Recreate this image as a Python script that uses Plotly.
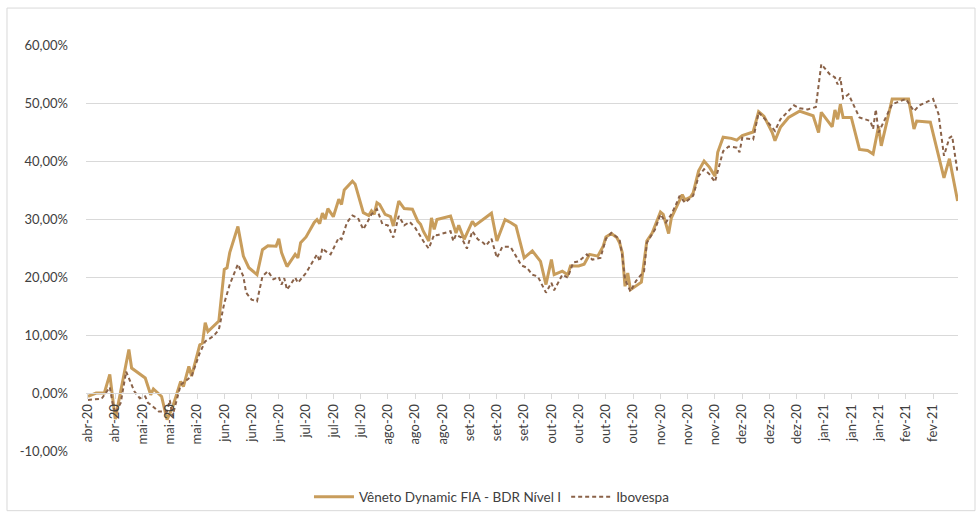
import plotly.graph_objects as go

fund_name = "Vêneto Dynamic FIA - BDR Nível I"
ibov_name = "Ibovespa"

fund_dates = [
    "2020-04-14", "2020-04-17", "2020-04-20", "2020-04-22", "2020-04-24", "2020-04-29", "2020-04-30",
    "2020-05-04", "2020-05-05", "2020-05-07", "2020-05-08", "2020-05-11", "2020-05-13", "2020-05-15",
    "2020-05-18", "2020-05-19", "2020-05-21", "2020-05-22", "2020-05-25", "2020-05-26", "2020-05-27",
    "2020-05-28", "2020-06-01", "2020-06-03", "2020-06-04", "2020-06-05", "2020-06-08", "2020-06-10",
    "2020-06-12", "2020-06-15", "2020-06-17", "2020-06-19", "2020-06-22", "2020-06-23", "2020-06-24",
    "2020-06-25", "2020-06-26", "2020-06-29", "2020-06-30", "2020-07-01", "2020-07-03", "2020-07-06",
    "2020-07-07", "2020-07-08", "2020-07-09", "2020-07-10", "2020-07-11", "2020-07-13", "2020-07-15",
    "2020-07-16", "2020-07-17", "2020-07-20", "2020-07-21", "2020-07-24", "2020-07-26", "2020-07-27",
    "2020-07-28", "2020-07-29", "2020-07-30", "2020-08-01", "2020-08-03", "2020-08-04", "2020-08-06",
    "2020-08-08", "2020-08-11", "2020-08-13", "2020-08-14", "2020-08-15", "2020-08-17", "2020-08-18",
    "2020-08-19", "2020-08-20", "2020-08-23", "2020-08-25", "2020-08-27", "2020-08-28", "2020-08-30",
    "2020-09-02", "2020-09-03", "2020-09-09", "2020-09-11", "2020-09-14", "2020-09-16", "2020-09-18",
    "2020-09-21", "2020-09-24", "2020-09-27", "2020-09-29", "2020-10-01", "2020-10-02", "2020-10-05",
    "2020-10-07", "2020-10-08", "2020-10-11", "2020-10-13", "2020-10-15", "2020-10-18", "2020-10-20",
    "2020-10-21", "2020-10-23", "2020-10-25", "2020-10-26", "2020-10-27", "2020-10-28", "2020-10-29",
    "2020-10-30", "2020-11-03", "2020-11-05", "2020-11-07", "2020-11-10", "2020-11-11", "2020-11-13",
    "2020-11-14", "2020-11-17", "2020-11-18", "2020-11-19", "2020-11-21", "2020-11-22", "2020-11-24",
    "2020-11-26", "2020-11-28", "2020-11-30", "2020-12-01", "2020-12-03", "2020-12-06", "2020-12-08",
    "2020-12-10", "2020-12-14", "2020-12-16", "2020-12-18", "2020-12-21", "2020-12-22", "2020-12-24",
    "2020-12-27", "2020-12-31", "2021-01-05", "2021-01-07", "2021-01-08", "2021-01-12", "2021-01-13",
    "2021-01-14", "2021-01-15", "2021-01-16", "2021-01-19", "2021-01-22", "2021-01-25", "2021-01-27",
    "2021-01-29", "2021-01-30", "2021-02-03", "2021-02-09", "2021-02-11", "2021-02-12", "2021-02-17",
    "2021-02-22", "2021-02-24", "2021-02-27",
]
fund_values = [
    -0.6, 0.0, 0.0, 3.2, -4.5, 7.5, 4.3,
    2.9, 2.6, -0.3, 0.7, -0.6, -4.6, -2.5,
    2.0, 1.1, 4.6, 2.9, 8.3, 8.6, 12.1,
    10.6, 12.4, 21.3, 21.6, 24.2, 28.7, 23.6,
    21.6, 20.4, 24.7, 25.4, 25.3, 26.6, 24.2,
    23.0, 21.8, 23.9, 23.3, 25.9, 26.9, 29.4,
    29.9, 29.2, 31.0, 30.0, 31.8, 30.4, 33.4,
    32.5, 35.0, 36.5, 36.0, 31.1, 30.6, 31.4,
    30.8, 32.8, 32.5, 30.8, 30.4, 28.8, 33.1,
    31.8, 31.7, 29.6, 29.1, 27.9, 26.2, 30.2,
    28.2, 29.9, 30.2, 30.5, 27.6, 28.9, 26.5,
    29.6, 28.9, 31.0, 26.2, 29.9, 29.4, 28.8,
    23.3, 24.5, 22.7, 18.7, 23.0, 20.4, 21.0,
    20.4, 21.9, 21.9, 22.2, 23.9, 23.6, 25.3,
    26.9, 27.5, 26.8, 25.9, 24.2, 18.4, 20.7,
    17.8, 19.1, 26.2, 27.6, 31.2, 30.8, 27.5,
    30.2, 33.4, 34.2, 33.3, 33.8, 34.5, 38.3,
    40.0, 38.9, 37.4, 41.5, 44.1, 43.9, 43.6,
    44.4, 45.0, 48.5, 47.7, 44.9, 43.5, 45.8,
    47.5, 48.6, 47.8, 44.9, 48.4, 45.9, 48.8,
    47.2, 49.8, 47.5, 47.5, 42.0, 41.8, 41.2,
    46.0, 42.6, 50.7, 50.7, 45.5, 46.9, 46.7,
    37.1, 40.4, 33.1,
]

ibov_dates = [
    "2020-04-14", "2020-04-19", "2020-04-22", "2020-04-23", "2020-04-24", "2020-04-26", "2020-04-28",
    "2020-05-01", "2020-05-03", "2020-05-05", "2020-05-06", "2020-05-07", "2020-05-10", "2020-05-13",
    "2020-05-14", "2020-05-15", "2020-05-18", "2020-05-22", "2020-05-25", "2020-05-27", "2020-05-30",
    "2020-06-01", "2020-06-03", "2020-06-05", "2020-06-08", "2020-06-10", "2020-06-11", "2020-06-13",
    "2020-06-15", "2020-06-17", "2020-06-19", "2020-06-21", "2020-06-23", "2020-06-24", "2020-06-25",
    "2020-06-26", "2020-06-29", "2020-06-30", "2020-07-03", "2020-07-06", "2020-07-07", "2020-07-08",
    "2020-07-09", "2020-07-10", "2020-07-12", "2020-07-15", "2020-07-16", "2020-07-18", "2020-07-20",
    "2020-07-22", "2020-07-24", "2020-07-26", "2020-07-27", "2020-07-29", "2020-07-31", "2020-08-02",
    "2020-08-04", "2020-08-06", "2020-08-08", "2020-08-10", "2020-08-12", "2020-08-14", "2020-08-15",
    "2020-08-17", "2020-08-19", "2020-08-20", "2020-08-22", "2020-08-25", "2020-08-26", "2020-08-27",
    "2020-08-29", "2020-08-31", "2020-09-02", "2020-09-04", "2020-09-06", "2020-09-07", "2020-09-09",
    "2020-09-11", "2020-09-13", "2020-09-16", "2020-09-18", "2020-09-20", "2020-09-22", "2020-09-24",
    "2020-09-26", "2020-09-29", "2020-10-01", "2020-10-02", "2020-10-05", "2020-10-07", "2020-10-09",
    "2020-10-11", "2020-10-14", "2020-10-16", "2020-10-19", "2020-10-21", "2020-10-23", "2020-10-26",
    "2020-10-27", "2020-10-28", "2020-10-30", "2020-11-01", "2020-11-04", "2020-11-05", "2020-11-08",
    "2020-11-10", "2020-11-12", "2020-11-14", "2020-11-16", "2020-11-17", "2020-11-19", "2020-11-21",
    "2020-11-22", "2020-11-24", "2020-11-26", "2020-11-28", "2020-11-30", "2020-12-02", "2020-12-03",
    "2020-12-05", "2020-12-08", "2020-12-09", "2020-12-10", "2020-12-14", "2020-12-16", "2020-12-19",
    "2020-12-22", "2020-12-24", "2020-12-26", "2020-12-29", "2020-12-31", "2021-01-03", "2021-01-06",
    "2021-01-08", "2021-01-11", "2021-01-13", "2021-01-14", "2021-01-15", "2021-01-16", "2021-01-18",
    "2021-01-22", "2021-01-26", "2021-01-27", "2021-01-28", "2021-01-29", "2021-02-01", "2021-02-03",
    "2021-02-08", "2021-02-11", "2021-02-13", "2021-02-18", "2021-02-20", "2021-02-22", "2021-02-24",
    "2021-02-25", "2021-02-27",
]
ibov_values = [
    -1.2, -1.0, 1.0, -1.7, -3.5, -1.7, 3.7,
    0.3, -0.9, -0.6, -1.7, -2.0, -3.2, -3.2,
    -1.2, -4.0, 1.4, 2.9, 6.9, 8.9, 9.8,
    10.9, 15.5, 18.7, 22.2, 20.1, 17.3, 16.1,
    15.8, 20.1, 21.0, 19.6, 20.0, 18.7, 19.8,
    17.8, 19.9, 19.0, 20.7, 23.0, 23.9, 22.7,
    25.0, 24.5, 23.9, 26.8, 26.5, 29.4, 30.6,
    30.2, 28.2, 29.9, 30.8, 31.7, 29.1, 28.9,
    26.8, 30.5, 28.9, 29.5, 28.5, 27.0, 26.2,
    24.9, 27.3, 27.2, 27.5, 27.9, 26.2, 27.3,
    26.8, 24.9, 27.9, 26.5, 25.9, 25.4, 26.6,
    23.3, 25.2, 25.2, 23.6, 22.0, 21.6, 20.4,
    20.1, 17.3, 19.0, 17.7, 20.4, 19.9, 22.5,
    22.7, 23.9, 23.0, 23.3, 26.6, 27.6, 26.5,
    23.6, 19.6, 17.5, 19.3, 21.0, 25.9, 28.2,
    30.8, 29.4, 30.8, 32.8, 34.0, 32.8, 33.5,
    34.0, 37.4, 38.6, 37.7, 36.4, 40.0, 41.7,
    42.5, 42.3, 41.5, 44.0, 43.7, 48.4, 46.9,
    45.2, 47.2, 48.1, 49.6, 49.1, 48.9, 49.3,
    56.7, 55.0, 54.4, 53.2, 54.4, 50.8, 51.5,
    47.5, 46.9, 45.5, 48.9, 44.9, 47.8, 49.8,
    50.7, 48.6, 49.6, 50.7, 48.1, 40.9, 44.0,
    44.3, 38.0,
]

tick_dates = [
    "2020-04-14", "2020-04-24", "2020-05-04", "2020-05-14", "2020-05-24", "2020-06-03", "2020-06-13",
    "2020-06-23", "2020-07-03", "2020-07-13", "2020-07-23", "2020-08-02", "2020-08-12", "2020-08-22",
    "2020-09-01", "2020-09-11", "2020-09-21", "2020-10-01", "2020-10-11", "2020-10-21", "2020-10-31",
    "2020-11-10", "2020-11-20", "2020-11-30", "2020-12-10", "2020-12-20", "2020-12-30", "2021-01-09",
    "2021-01-19", "2021-01-29", "2021-02-08", "2021-02-18",
]
tick_labels = [
    "abr-20", "abr-20", "mai-20", "mai-20", "mai-20", "jun-20", "jun-20",
    "jun-20", "jul-20", "jul-20", "jul-20", "ago-20", "ago-20", "ago-20",
    "set-20", "set-20", "set-20", "out-20", "out-20", "out-20", "out-20",
    "nov-20", "nov-20", "nov-20", "dez-20", "dez-20", "dez-20", "jan-21",
    "jan-21", "jan-21", "fev-21", "fev-21",
]

y_ticks = [-10, 0, 10, 20, 30, 40, 50, 60]
y_labels = ["-10,00%", "0,00%", "10,00%", "20,00%", "30,00%", "40,00%", "50,00%", "60,00%"]

FONT = "Lato, Carlito, Calibri, sans-serif"
TXT = "#404040"
GRID = "#d9d9d9"

fig = go.Figure()
fig.add_trace(go.Scatter(
    x=fund_dates, y=fund_values, name=fund_name, mode="lines",
    line=dict(color="#C89D5C", width=3),
))
fig.add_trace(go.Scatter(
    x=ibov_dates, y=ibov_values, name=ibov_name, mode="lines",
    line=dict(color="#8A6248", width=2, dash="4px,3px"),
))

fig.update_layout(
    width=976, height=512,
    margin=dict(l=86, r=18, t=45, b=61, autoexpand=False),
    paper_bgcolor="white", plot_bgcolor="white",
    font=dict(family=FONT, size=13, color=TXT),
    showlegend=True,
    legend=dict(orientation="h", x=0.465, xanchor="center", y=-0.113, yanchor="middle",
                font=dict(family=FONT, size=13.5, color=TXT), itemwidth=40,
                traceorder="normal", bgcolor="rgba(0,0,0,0)"),
    xaxis=dict(
        type="date",
        range=["2020-04-13 06:30", "2021-02-27 03:30"],
        tickmode="array", tickvals=tick_dates, ticktext=tick_labels,
        tickangle=-90, tickfont=dict(family=FONT, size=13, color=TXT),
        ticks="outside", ticklen=5, tickcolor=GRID, tickwidth=1,
        showline=True, linecolor=GRID, linewidth=1,
        showgrid=False, zeroline=False, automargin=False,
        anchor="free", position=1 / 7,
    ),
    yaxis=dict(
        range=[-10, 60], domain=[0, 1],
        tickmode="array", tickvals=y_ticks, ticktext=y_labels,
        tickfont=dict(family=FONT, size=13, color=TXT),
        showgrid=True, gridcolor=GRID, gridwidth=1,
        zeroline=False, showline=False, ticks="", automargin=False,
        ticklabelstandoff=17,
    ),
    shapes=[
        dict(type="rect", xref="paper", yref="paper",
             x0=-0.0906, x1=1.0195, y0=-0.147, y1=1.091,
             line=dict(color=GRID, width=1), fillcolor="rgba(0,0,0,0)", layer="below"),
    ],
)

fig.write_html("out.html", config={"displayModeBar": False},
               post_script="document.body.style.margin='0';")
